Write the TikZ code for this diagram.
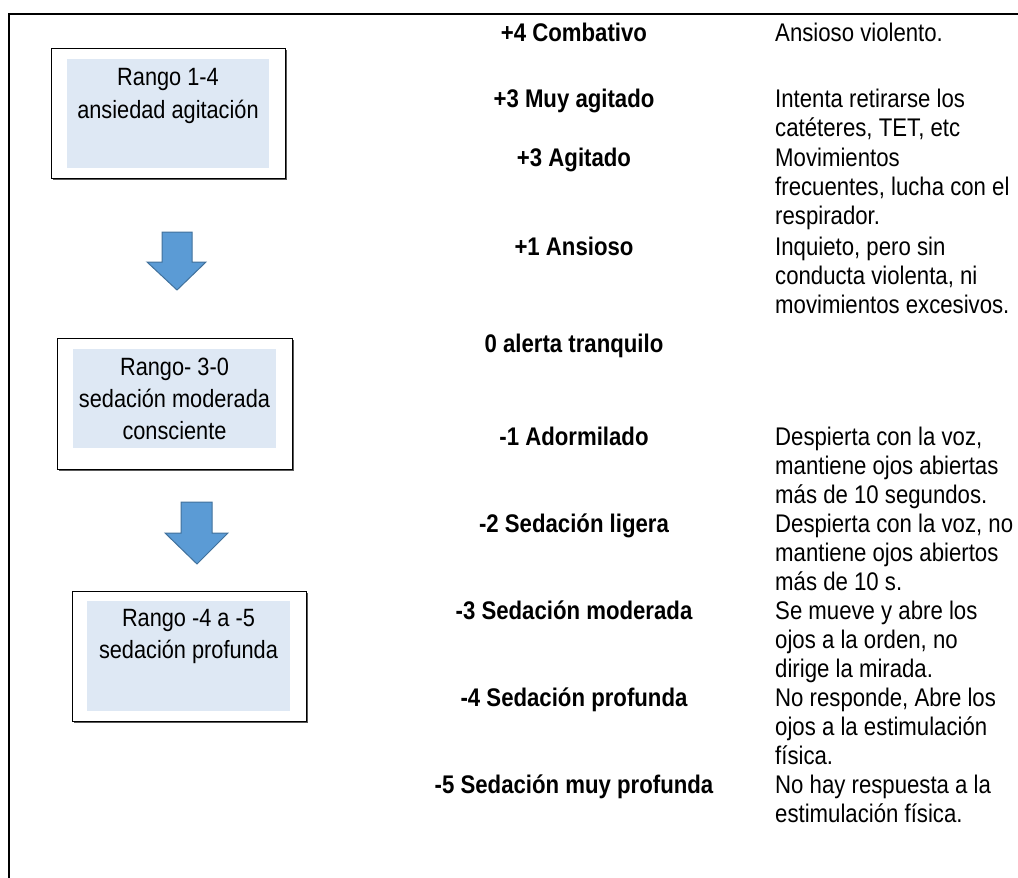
\documentclass[tikz,border=0pt]{standalone}
\usepackage{fontspec}
\setmainfont{Liberation Sans}[FakeStretch=0.87]
\definecolor{boxfill}{HTML}{DEE8F4}
\definecolor{arrfill}{HTML}{5B9BD5}
\definecolor{arrline}{HTML}{41719C}
\begin{document}
\begin{tikzpicture}[x=1pt,y=-1pt,
  txt/.style={inner sep=0pt, anchor=base, font=\fontsize{25.5}{29}\selectfont},
  lvl/.style={txt, font=\fontsize{25.5}{29}\selectfont\bfseries},
  dsc/.style={txt, anchor=base west},
  btxt/.style={inner sep=0pt, anchor=base, font=\fontsize{25}{32}\selectfont},
  outerbox/.style={draw=black, line width=1.1pt, fill=white},
  shadowbox/.style={fill=black!65, draw=none},
  innerbox/.style={fill=boxfill, draw=none},
  blockarrow/.style={fill=arrfill, draw=arrline, line width=1pt, line join=miter},
  frameline/.style={line width=2pt, black}
]
\useasboundingbox (0,0) rectangle (1018,878);
% frame
\coordinate (fTR) at (1018,14);
\coordinate (fTL) at (9,14);
\coordinate (fBL) at (9,878);
\draw[frameline] (fTR) -- (fTL) -- (fBL);

% box 1
\fill[shadowbox] (52.5,49.5) rectangle (286.5,179.5);
\node[outerbox, minimum width=234pt, minimum height=130pt, inner sep=0pt, anchor=north west] (b1) at (51,48) {};
\node[innerbox, minimum width=202pt, minimum height=109pt, inner sep=0pt, anchor=north west] (b1in) at (67,59) {};
\node[btxt] (b1t1) at (168,85) {Rango 1-4};
\node[btxt] (b1t2) at (168,118) {ansiedad agitación};

% box 2
\fill[shadowbox] (58.5,339.5) rectangle (293.5,470.5);
\node[outerbox, minimum width=235pt, minimum height=131pt, inner sep=0pt, anchor=north west] (b2) at (57,338) {};
\node[innerbox, minimum width=203pt, minimum height=99pt, inner sep=0pt, anchor=north west] (b2in) at (73,349) {};
\node[btxt] (b2t1) at (174.5,375) {Rango- 3-0};
\node[btxt] (b2t2) at (174.5,407) {sedación moderada};
\node[btxt] (b2t3) at (174.5,439) {consciente};

% box 3
\fill[shadowbox] (73.5,592.5) rectangle (307.5,722.5);
\node[outerbox, minimum width=234pt, minimum height=130pt, inner sep=0pt, anchor=north west] (b3) at (72,591) {};
\node[innerbox, minimum width=203pt, minimum height=110pt, inner sep=0pt, anchor=north west] (b3in) at (87,601) {};
\node[btxt] (b3t1) at (188.5,626) {Rango -4 a -5};
\node[btxt] (b3t2) at (188.5,658) {sedación profunda};

% block arrows
\draw[blockarrow] (162,232) -- (192,232) -- (192,262) -- (206,262) -- (177,290) -- (147,262) -- (162,262) -- cycle;
\draw[blockarrow] (181,502) -- (212,502) -- (212,533) -- (228,533) -- (197,564) -- (165,533) -- (181,533) -- cycle;

% levels
\node[lvl] (l1) at (574,41) {+4 Combativo};
\node[lvl] (l2) at (574,107) {+3 Muy agitado};
\node[lvl] (l3) at (574,166) {+3 Agitado};
\node[lvl] (l4) at (574,255) {+1 Ansioso};
\node[lvl] (l5) at (574,352) {0 alerta tranquilo};
\node[lvl] (l6) at (574,445) {-1 Adormilado};
\node[lvl] (l7) at (574,532) {-2 Sedación ligera};
\node[lvl] (l8) at (574,619) {-3 Sedación moderada};
\node[lvl] (l9) at (574,706) {-4 Sedación profunda};
\node[lvl] (l10) at (574,793) {-5 Sedación muy profunda};

% descriptions
\node[dsc] (d1a) at (775,41) {Ansioso violento.};
\node[dsc] (d2a) at (775,107) {Intenta retirarse los};
\node[dsc] (d2b) at (775,136) {catéteres, TET, etc};
\node[dsc] (d3a) at (775,166) {Movimientos};
\node[dsc] (d3b) at (775,195) {frecuentes, lucha con el};
\node[dsc] (d3c) at (775,224) {respirador.};
\node[dsc] (d4a) at (775,255) {Inquieto, pero sin};
\node[dsc] (d4b) at (775,284) {conducta violenta, ni};
\node[dsc] (d4c) at (775,313) {movimientos excesivos.};
\node[dsc] (d6a) at (775,445) {Despierta con la voz,};
\node[dsc] (d6b) at (775,474) {mantiene ojos abiertas};
\node[dsc] (d6c) at (775,503) {más de 10 segundos.};
\node[dsc] (d7a) at (775,532) {Despierta con la voz, no};
\node[dsc] (d7b) at (775,561) {mantiene ojos abiertos};
\node[dsc] (d7c) at (775,590) {más de 10 s.};
\node[dsc] (d8a) at (775,619) {Se mueve y abre los};
\node[dsc] (d8b) at (775,648) {ojos a la orden, no};
\node[dsc] (d8c) at (775,677) {dirige la mirada.};
\node[dsc] (d9a) at (775,706) {No responde, Abre los};
\node[dsc] (d9b) at (775,735) {ojos a la estimulación};
\node[dsc] (d9c) at (775,764) {física.};
\node[dsc] (d10a) at (775,793) {No hay respuesta a la};
\node[dsc] (d10b) at (775,822) {estimulación física.};
\end{tikzpicture}
\end{document}
